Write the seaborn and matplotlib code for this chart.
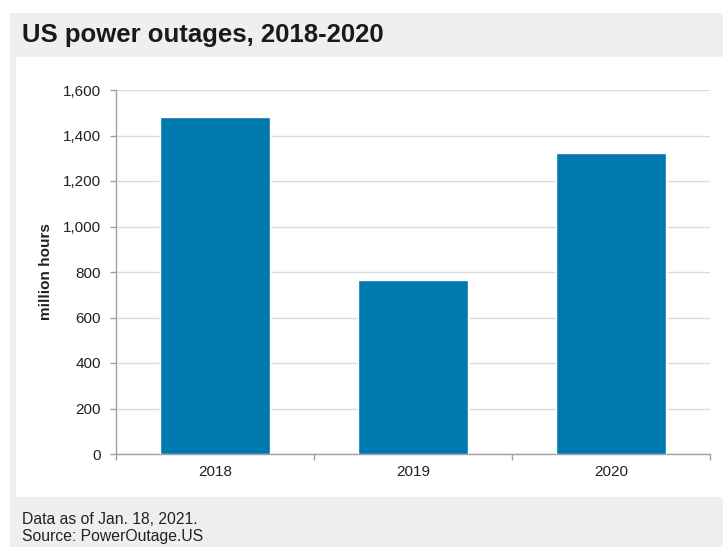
import matplotlib
matplotlib.use("Agg")
import matplotlib.pyplot as plt
from matplotlib.patches import Rectangle
from matplotlib.ticker import FixedLocator, FuncFormatter
import seaborn as sns
import pandas as pd

years = ["2018", "2019", "2020"]
outage_hours = [1483, 765, 1324]
y_ticks = [0, 200, 400, 600, 800, 1000, 1200, 1400, 1600]
title = "US power outages, 2018-2020"
y_label = "million hours"
footer_lines = ["Data as of Jan. 18, 2021.", "Source: PowerOutage.US"]

sns.set_theme(style="white")
plt.rcParams["font.family"] = ["Liberation Sans", "DejaVu Sans"]

W, H = 723, 549
fig = plt.figure(figsize=(W / 100, H / 100), dpi=100)
fig.patch.set_facecolor("white")

def fx(x):
    return x / W

def fy(y):
    return 1 - y / H

# background panels
fig.patches.append(Rectangle((fx(10), fy(547)), fx(723 - 10), (547 - 13) / H,
                             transform=fig.transFigure, facecolor="#efefef",
                             edgecolor="none", zorder=-2))
fig.patches.append(Rectangle((fx(16), fy(497)), fx(723 - 16), (497 - 57) / H,
                             transform=fig.transFigure, facecolor="white",
                             edgecolor="none", zorder=-1))

ax = fig.add_axes([fx(116), fy(454), fx(710 - 116), (454 - 90) / H])
ax.set_zorder(2)
ax.set_facecolor("none")

df = pd.DataFrame({"year": years, "hours": outage_hours})
sns.barplot(data=df, x="year", y="hours", color="#0079ae", width=0.56,
            saturation=1, ax=ax, zorder=3)

ax.set_ylim(0, 1600)
ax.set_xlim(-0.5, 2.5)
ax.yaxis.set_major_locator(FixedLocator(y_ticks))
ax.yaxis.set_major_formatter(FuncFormatter(lambda v, p: f"{int(v):,}"))
ax.grid(axis="y", color="#dcdcdc", linewidth=1.0, zorder=0)
ax.set_axisbelow(True)

for s in ["top", "right"]:
    ax.spines[s].set_visible(False)
for s in ["left", "bottom"]:
    ax.spines[s].set_color("#a0a0a0")
    ax.spines[s].set_linewidth(1.0)

ax.xaxis.set_minor_locator(FixedLocator([-0.5, 0.5, 1.5, 2.5]))
ax.tick_params(axis="x", which="major", length=0, pad=8, labelsize=11,
               labelcolor="#222222")
ax.tick_params(axis="x", which="minor", length=4, width=1, color="#a0a0a0",
               direction="out", bottom=True)
ax.tick_params(axis="y", which="major", length=4, width=1, color="#a0a0a0",
               direction="out", left=True, pad=7, labelsize=11,
               labelcolor="#222222")

ax.set_xlabel("")
ax.set_ylabel(y_label, fontsize=11, fontweight="bold", color="#222222",
              labelpad=7)

fig.text(fx(22), fy(35), title, fontsize=18.5, fontweight="bold",
         color="#1a1a1a", ha="left", va="center")
fig.text(fx(22), fy(519), footer_lines[0], fontsize=11.3, color="#222222",
         ha="left", va="center")
fig.text(fx(22), fy(537), footer_lines[1], fontsize=11.3, color="#222222",
         ha="left", va="center")

fig.savefig("out.png", dpi=100)
